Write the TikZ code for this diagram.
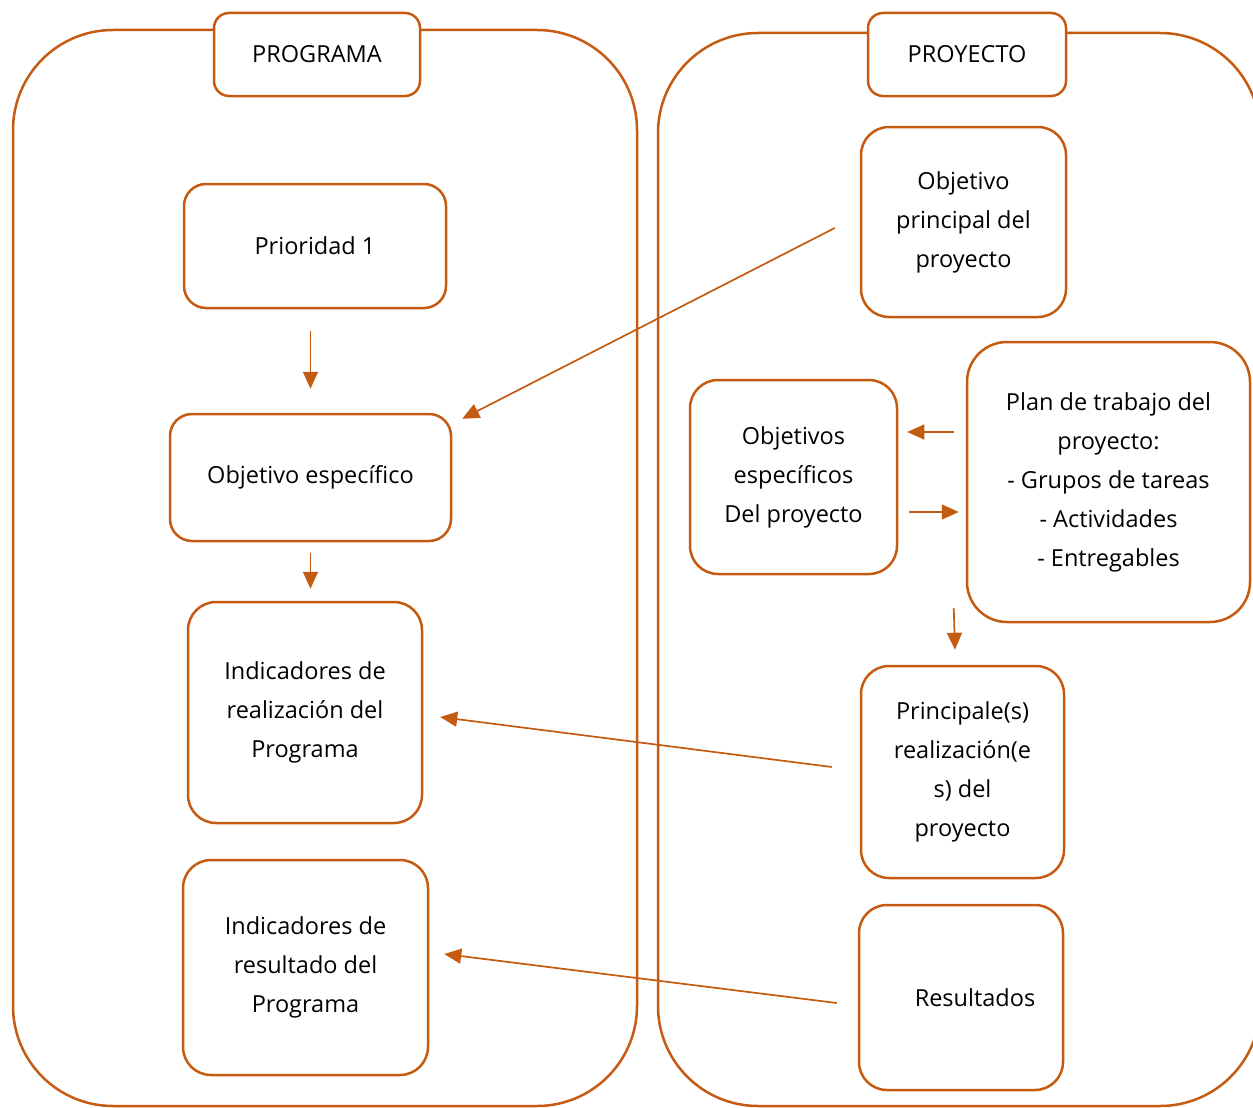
\documentclass[tikz,border=0pt]{standalone}
\usepackage{fontspec}
\setmainfont{Open Sans}
\usetikzlibrary{arrows.meta}
\definecolor{naranja}{HTML}{C55A11}
\begin{document}
\begin{tikzpicture}[x=1pt,y=-1pt,
    caja/.style={draw=naranja, line width=2.5pt, rounded corners=28pt, fill=white,
        align=center, inner sep=0pt, font=\fontsize{23.5}{39}\selectfont},
    grupo/.style={draw=naranja, line width=2.5pt, rounded corners=100pt},
    flecha/.style={draw=naranja, line width=1.7pt, -{Triangle[length=17pt,width=15pt]}}]
    \useasboundingbox (0,0) rectangle (1253,1108);
    \clip (0,0) rectangle (1253,1108);
    \draw[grupo] (13,30) rectangle (637,1106);
    \draw[grupo] (658,33) rectangle (1260,1106);
    % programa
    \node[caja, minimum width=206pt, minimum height=83pt, rounded corners=15pt] (programa) at (317,54.5) {PROGRAMA};
    \node[caja, minimum width=262pt, minimum height=124pt, rounded corners=22pt] (prioridad) at (315,246) {Prioridad 1};
    \node[caja, minimum width=281pt, minimum height=127pt, rounded corners=22pt] (objesp) at (310.5,477.5) {Objetivo específico};
    \node[caja, minimum width=234pt, minimum height=221pt] (realiz) at (305,712.5) {Indicadores de\\realización del\\Programa};
    \node[caja, minimum width=245pt, minimum height=215pt] (resul) at (305.5,967.5) {Indicadores de\\resultado del\\Programa};
    % proyecto
    \node[caja, minimum width=198pt, minimum height=83pt, rounded corners=15pt] (proyecto) at (967,54.5) {PROYECTO};
    \node[caja, minimum width=205pt, minimum height=190pt] (principal) at (963.5,222) {Objetivo\\principal del\\proyecto};
    \node[caja, minimum width=207pt, minimum height=194pt] (objetivos) at (793.5,477) {Objetivos\\específicos\\Del proyecto};
    \node[caja, minimum width=283pt, minimum height=280pt, rounded corners=40pt] (plan) at (1108.5,482) {Plan de trabajo del\\proyecto:\\- Grupos de tareas\\- Actividades\\- Entregables};
    \node[caja, minimum width=203pt, minimum height=212pt] (preal) at (962.5,772) {Principale(s)\\realización(e\\s) del\\proyecto};
    \node[caja, minimum width=204pt, minimum height=185pt] (res) at (961,997.5) {\hspace*{28pt}Resultados};
    % flechas
    \draw[flecha, shorten <=22pt, shorten >=24pt] (prioridad.south -| objesp.north) -- (objesp.north);
    \draw[flecha, shorten <=11pt, shorten >=12pt] (objesp.south) -- (objesp.south |- realiz.north);
    \draw[flecha] ([xshift=-25pt,yshift=-6pt]principal.west) -- ([xshift=10pt,yshift=-6pt]objesp.north east);
    \draw[flecha] ([xshift=-12pt,yshift=50pt]plan.west) -- ([xshift=9pt,yshift=45pt]objetivos.east);
    \draw[flecha] ([xshift=11pt,yshift=-35pt]objetivos.east) -- ([xshift=-7pt,yshift=-30pt]plan.west);
    \draw[flecha] ([xshift=-12pt,yshift=15pt]plan.south west) -- ([xshift=-7.5pt,yshift=15pt]preal.north);
    \draw[flecha] ([xshift=-28pt,yshift=5pt]preal.west) -- ([xshift=17pt,yshift=-4.5pt]realiz.east);
    \draw[flecha] ([xshift=-21pt,yshift=-5.5pt]res.west) -- ([xshift=15pt,yshift=13.5pt]resul.east);
\end{tikzpicture}
\end{document}
